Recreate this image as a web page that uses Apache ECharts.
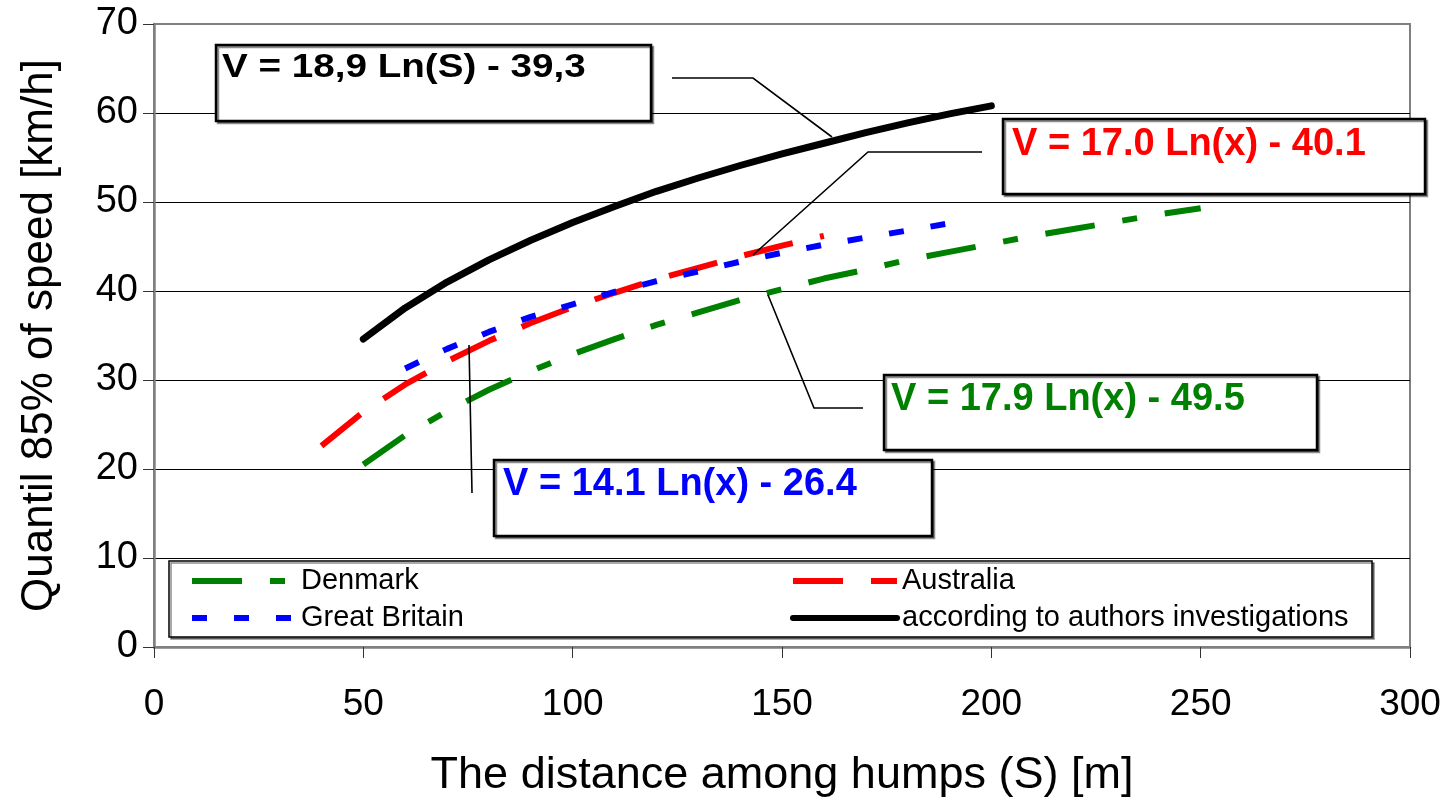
<!DOCTYPE html>
<html>
<head>
<meta charset="utf-8">
<script src="https://cdn.jsdelivr.net/npm/echarts@6/dist/echarts.min.js"></script>
<style>html,body{margin:0;padding:0;background:#fff;}#c{width:1453px;height:803px;}</style>
</head>
<body>
<div id="c"></div>
<script>
// Distances S [m]
const denmarkX = [50,60,70,80,90,100,110,120,130,140,150,160,170,180,190,200,210,220,230,240,250];
const denmarkV = [20.5,23.8,26.5,28.9,31.0,32.9,34.6,36.2,37.6,39.0,40.2,41.4,42.4,43.5,44.4,45.3,46.2,47.0,47.8,48.6,49.3];
const australiaX = [40,50,60,70,80,90,100,110,120,130,140,150,160];
const australiaV = [22.6,26.4,29.5,32.1,34.4,36.4,38.2,39.8,41.3,42.6,43.9,45.1,46.2];
const britainX = [60,70,80,90,100,110,120,130,140,150,160,170,180,190,195];
const britainV = [31.3,33.5,35.4,37.1,38.5,39.9,41.1,42.2,43.3,44.3,45.2,46.0,46.8,47.6,48.0];
const authorsX = [50,60,70,80,90,100,110,120,130,140,150,160,170,180,190,200];
const authorsV = [34.6,38.1,41.0,43.5,45.7,47.7,49.5,51.2,52.7,54.1,55.4,56.6,57.8,58.9,59.9,60.8];
const xTicks = [0,50,100,150,200,250,300];
const yTicks = [0,10,20,30,40,50,60,70];
const seriesNames = ['Denmark','Australia','Great Britain','according to authors investigations'];
const equations = ['V = 18,9 Ln(S) - 39,3','V = 17.0 Ln(x) - 40.1','V = 17.9 Ln(x) - 49.5','V = 14.1 Ln(x) - 26.4'];

const FONT = "'Liberation Sans', Arial, sans-serif";
function pairs(xs, ys){ return xs.map((x,i)=>[x, ys[i]]); }

const chart = echarts.init(document.getElementById('c'), null, {renderer:'canvas'});

function box(x,y,w,h){
  return {type:'rect', z:10, shape:{x:x,y:y,width:w,height:h},
    style:{fill:'#fff', stroke:'#000', lineWidth:2.5, shadowColor:'rgba(0,0,0,0.45)', shadowOffsetX:2, shadowOffsetY:2, shadowBlur:0}};
}
function eqText(x,y,txt,color,size,sx){
  return {type:'text', z:11, x:x, y:y, scaleX:sx||1,
    style:{text:txt, fill:color, font:'bold '+size+'px '+FONT, textAlign:'left', textVerticalAlign:'middle', verticalAlign:'middle'}};
}
function leader(pts){
  return {type:'polyline', z:9, shape:{points:pts}, style:{stroke:'#000', lineWidth:1.6, fill:null}};
}
const legendBase = {orient:'vertical', top:566, padding:0, itemWidth:104, itemHeight:14, itemGap:7, z:20,
  textStyle:{fontFamily:FONT, fontSize:29, color:'#000', lineHeight:30}, selectedMode:false,
  itemStyle:{opacity:0, borderWidth:0}, lineStyle:{width:6}};

const option = {
  backgroundColor:'#fff',
  animation:false,
  grid:{left:154, right:43, top:24, bottom:152, show:true, borderColor:'#808080', borderWidth:2, containLabel:false},
  xAxis:{
    type:'value', min:0, max:300, interval:50,
    name:'The distance among humps (S) [m]', nameLocation:'middle', nameGap:106,
    nameTextStyle:{fontFamily:FONT, fontSize:45, color:'#000'},
    axisLine:{show:true, onZero:false, lineStyle:{color:'#808080', width:2.5}},
    axisTick:{show:true, inside:false, length:11, lineStyle:{color:'#333', width:1}},
    axisLabel:{fontFamily:FONT, fontSize:37, color:'#000', margin:39,
      formatter:(v)=> xTicks.indexOf(v)>=0 ? String(v) : ''},
    splitLine:{show:false}
  },
  yAxis:{
    type:'value', min:0, max:70, interval:10,
    name:'Quantil 85% of speed [km/h]', nameLocation:'middle', nameGap:92, nameRotate:90,
    nameTextStyle:{fontFamily:FONT, fontSize:44, color:'#000'},
    axisLine:{show:true, onZero:false, lineStyle:{color:'#808080', width:2.5}},
    axisTick:{show:true, inside:false, length:11, lineStyle:{color:'#333', width:1}},
    axisLabel:{fontFamily:FONT, fontSize:38, color:'#000', margin:16,
      formatter:(v)=> yTicks.indexOf(v)>=0 ? String(v) : ''},
    splitLine:{show:true, showMinLine:false, showMaxLine:false, lineStyle:{color:'#000', width:1}}
  },
  legend:[
    Object.assign({}, legendBase, {data:[seriesNames[0], seriesNames[2]], left:189}),
    Object.assign({}, legendBase, {data:[seriesNames[1], seriesNames[3]], left:790})
  ],
  series:[
    {name:seriesNames[0], type:'line', data:pairs(denmarkX, denmarkV), showSymbol:false, symbol:'none', z:3,
      lineStyle:{color:'#008000', width:6, type:[50,28,15,28], cap:'butt'}, itemStyle:{color:'#008000'}},
    {name:seriesNames[1], type:'line', data:pairs(australiaX, australiaV), showSymbol:false, symbol:'none', z:4,
      lineStyle:{color:'#ff0000', width:6, type:[50,28], cap:'butt'}, itemStyle:{color:'#ff0000'}},
    {name:seriesNames[2], type:'line', data:pairs(britainX, britainV), showSymbol:false, symbol:'none', z:5,
      lineStyle:{color:'#0000ff', width:6, type:[15,27], cap:'butt'}, itemStyle:{color:'#0000ff'}},
    {name:seriesNames[3], type:'line', data:pairs(authorsX, authorsV), showSymbol:false, symbol:'none', z:6,
      lineStyle:{color:'#000000', width:7, type:'solid', cap:'round', join:'round'}, itemStyle:{color:'#000000'}}
  ],
  graphic:[
    {type:'rect', z:15, shape:{x:169,y:561,width:1203,height:76},
      style:{fill:'#fff', stroke:'#000', lineWidth:1.5, shadowColor:'rgba(0,0,0,0.45)', shadowOffsetX:2, shadowOffsetY:2, shadowBlur:0}},
    leader([[672,78],[753,78],[832,137]]),
    leader([[982,152],[868,152],[753,255]]),
    leader([[863,408],[814,408],[768,295]]),
    leader([[469,345],[472,493]]),
    box(216,45,435,76), eqText(222,68,equations[0],'#000',33,1.17),
    box(1003,119,422,75), eqText(1012,145,equations[1],'#ff0000',38),
    box(884,375,433,75), eqText(891,400,equations[2],'#008000',38),
    box(494,460,438,76), eqText(503,485,equations[3],'#0000ff',38)
  ]
};
chart.setOption(option);
</script>
</body>
</html>
